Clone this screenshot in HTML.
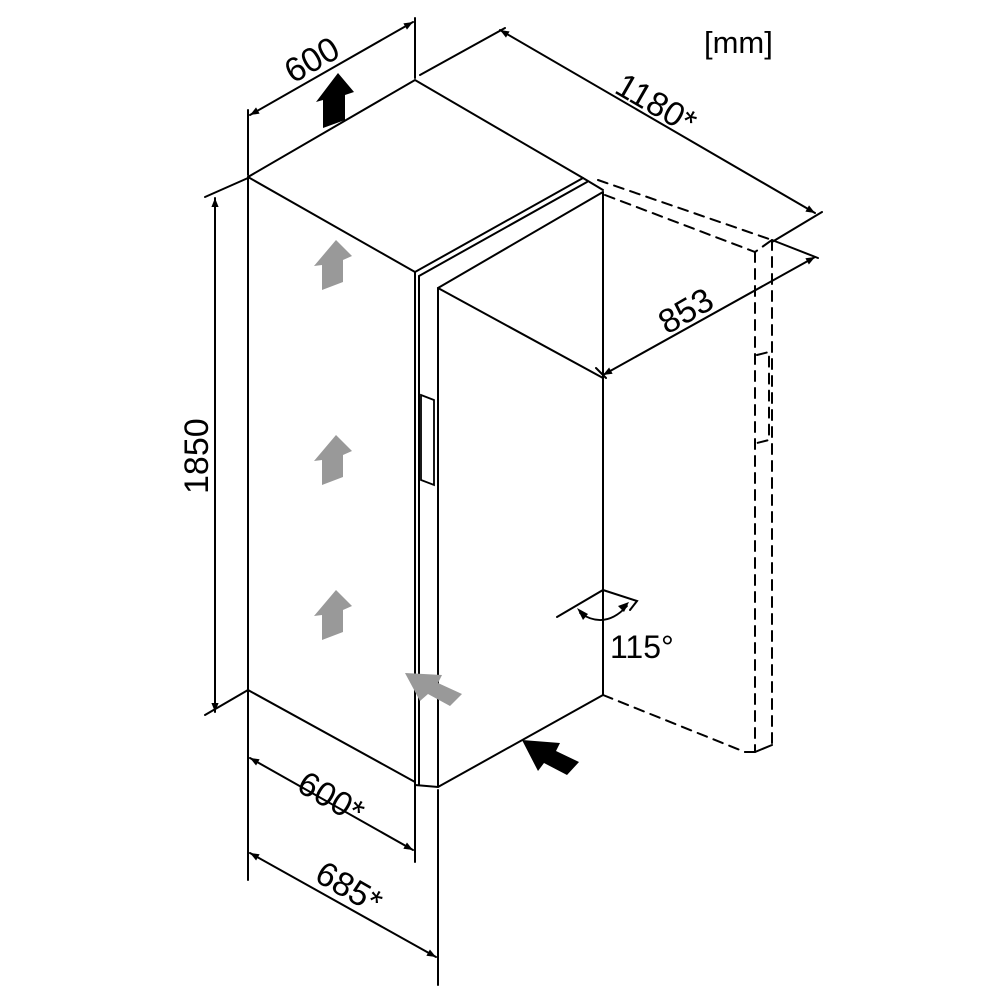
<!DOCTYPE html>
<html><head><meta charset="utf-8"><style>body{margin:0;background:#fff}svg{display:block}</style></head><body>
<svg width="1000" height="1000" viewBox="0 0 1000 1000" xmlns="http://www.w3.org/2000/svg">
<defs>
<marker id="a" viewBox="0 0 10 10" refX="10" refY="5" markerWidth="14" markerHeight="9" markerUnits="userSpaceOnUse" orient="auto-start-reverse"><path d="M0,1 L10,5 L0,9 z" fill="#000"/></marker>
</defs>
<g stroke="#000" stroke-width="2" fill="none" stroke-linecap="round">
<path d="M248,177 L415,80 L583,178 L603,190"/>
<path d="M248,177 L415,272 L583,178"/>
<path d="M419,276 L587,182"/>
<path d="M438,288 L603,192"/>
<path d="M438,288 L603,378"/>
<path d="M248,177 V690 L415,782"/>
<path d="M415,272 V785 M419,276 V785 M438,288 V787 M603,192 V695"/>
<path d="M415,785 L438,787 L603,695"/>
<path d="M421,395 L434,400 V485 L421,480 Z" stroke-width="1.8"/>
<g stroke-dasharray="10,7">
<path d="M598,180 L772,240 M605,195 L755,252 L772,240"/>
<path d="M755,252 V752 M772,240 V745"/>
<path d="M603,695 L745,752"/>
<path d="M757,355 L769,352 V440 L757,443"/>
</g>
<path d="M745,752 L755,752 L772,745"/>
<path d="M248,175 V110 M415,78 V18"/>
<path d="M250,115 L413,22" marker-start="url(#a)" marker-end="url(#a)"/>
<path d="M420,75 L505,28 M772,242 L822,212"/>
<path d="M500,30 L815,213" marker-start="url(#a)" marker-end="url(#a)"/>
<path d="M772,240 L818,258 M596,368 L606,378"/>
<path d="M603,375 L815,257" marker-start="url(#a)" marker-end="url(#a)"/>
<path d="M205,197 L248,178 M205,715 L248,690"/>
<path d="M215,198 V712" marker-start="url(#a)" marker-end="url(#a)"/>
<path d="M248,690 V880 M415,785 V862"/>
<path d="M250,758 L413,850" marker-start="url(#a)" marker-end="url(#a)"/>
<path d="M438,790 V985"/>
<path d="M250,853 L436,957" marker-start="url(#a)" marker-end="url(#a)"/>
<path d="M557,617 L603,590 L637,601 L630,610"/>
<path d="M580,613 Q605,630 627,606" stroke-width="1.8"/>
</g>
<path d="M577,608 L588,614 L583,620 z M629,602 L624,612 L618,606 z" fill="#000"/>
<g fill="#999">
<path d="M322,290 V265 L314,266 L336,240 L352,256 L343,260 V282 z"/>
<path d="M322,485 V460 L314,461 L336,435 L352,451 L343,455 V477 z"/>
<path d="M322,640 V615 L314,616 L336,590 L352,606 L343,610 V632 z"/>
<path d="M405,673 L442,675 L438,683 L462,694 L450,706 L428,694 L420,701 z"/>
</g>
<g fill="#000">
<path d="M323,128 V100 L316,102 L338,73 L354,92 L345,95 V120 z"/>
<path d="M522,740 L560,743 L556,751 L579,762 L567,775 L544,763 L538,771 z"/>
</g>
<g font-family="Liberation Sans, sans-serif" font-size="34" fill="#000">
<text x="704" y="53" font-size="31">[mm]</text>
<text transform="translate(293,84) rotate(-30)">600</text>
<text transform="translate(613,92) rotate(30)">1180*</text>
<text transform="translate(667,335) rotate(-30)">853</text>
<text transform="translate(208,494) rotate(-90)">1850</text>
<text transform="translate(295,790) rotate(30)">600*</text>
<text transform="translate(313,880) rotate(30)">685*</text>
<text x="610" y="658" font-size="32">115°</text>
</g>
</svg>
</body></html>
